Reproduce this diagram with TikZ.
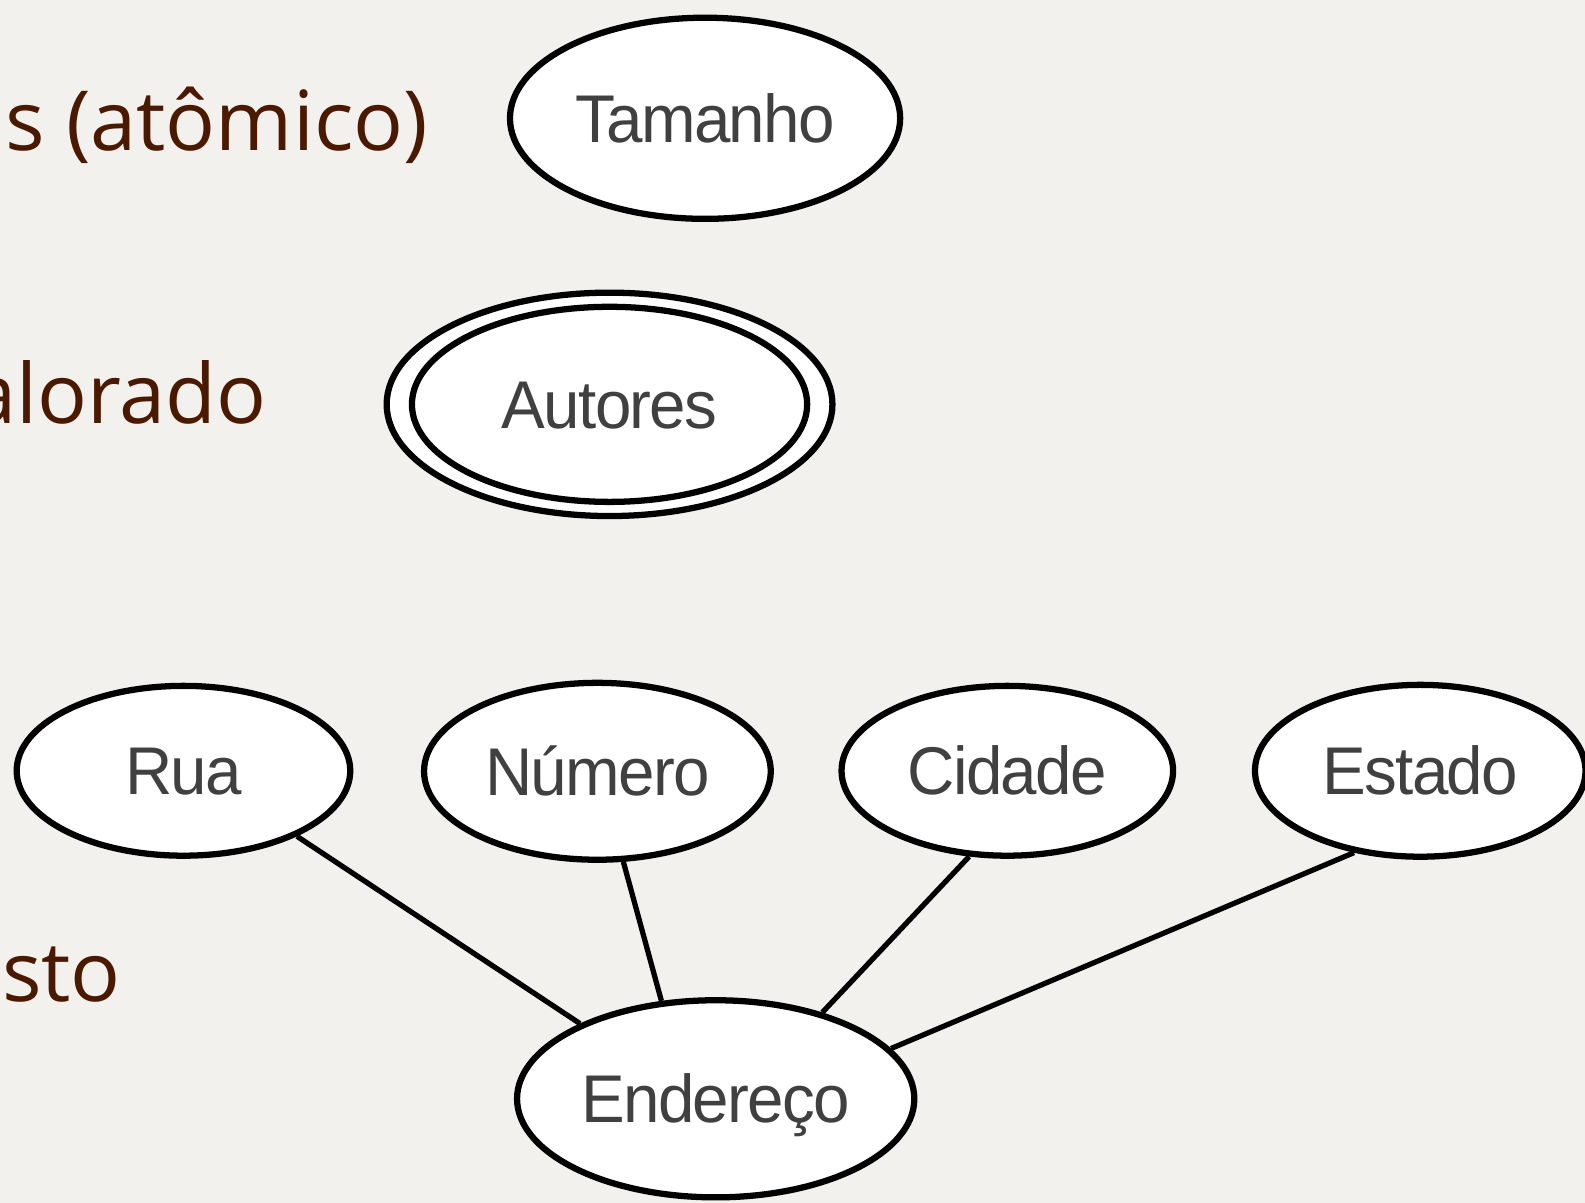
\documentclass[tikz,border=0pt]{standalone}
\usepackage{fontspec}
\setmainfont{Liberation Sans}
\newfontfamily\erfont[FakeStretch=0.97,LetterSpace=-2.5]{Liberation Sans}
\newfontfamily\slidefont{Open Sans}
\usetikzlibrary{shapes.geometric}
\definecolor{bgcol}{HTML}{F3F1ED}
\definecolor{ertext}{HTML}{404040}
\definecolor{slidebrown}{HTML}{4A1900}
\begin{document}
\begin{tikzpicture}[x=0.5pt,y=-0.5pt,
  attr/.style={ellipse, draw=black, line width=3.1pt, fill=white, inner sep=0pt,
    text=ertext, font=\erfont\fontsize{33.4pt}{36pt}\selectfont,
    text height=23.9pt, text depth=0pt},
  link/.style={line width=2.6pt, draw=black},
  slide/.style={text=slidebrown, font=\slidefont\fontsize{41pt}{48pt}\selectfont,
    anchor=base east, inner sep=0pt}]
\fill[bgcol] (0,0) rectangle (1568,1190);
\useasboundingbox (0,0) rectangle (1568,1190);

% slide texts (cut at the left edge)
\node[slide] (t1) at (424,148.5) {s (atômico)};
\node[slide] (t2) at (264,418.5) {alorado};
\node[slide] (t3) at (120,991) {osto};

% attributes
\node[attr, minimum width=193pt, minimum height=99.5pt] (tam) at (697.5,117) {Tamanho};
\node[attr, minimum width=220.5pt, minimum height=110.5pt] (autout) at (603,400) {};
\node[attr, minimum width=195.5pt, minimum height=96.5pt] (aut) at (603,400) {Autores};
\node[attr, minimum width=165pt, minimum height=84pt] (rua) at (181.5,762.5) {Rua};
\node[attr, minimum width=171.5pt, minimum height=87.5pt] (num) at (591,763) {Número};
\node[attr, minimum width=164pt, minimum height=84pt] (cid) at (996.5,762.5) {Cidade};
\node[attr, minimum width=163.5pt, minimum height=85pt] (est) at (1405,762.5) {Estado};
\node[attr, minimum width=196.5pt, minimum height=97.5pt] (end) at (708,1087) {Endereço};

% connectors
\draw[link] (rua.-30.7) -- (end.151.1);
\draw[link] (num.-74.5) -- (end.119.1);
\draw[link] (cid.-114.2) -- (end.39.9);
\draw[link] (est.-129.8) -- (end.16.5);
\end{tikzpicture}
\end{document}
